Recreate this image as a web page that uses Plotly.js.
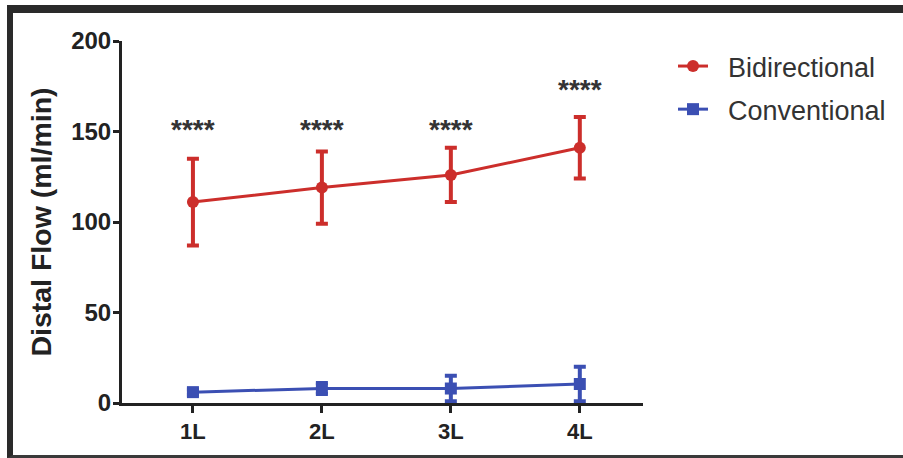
<!DOCTYPE html>
<html>
<head>
<meta charset="utf-8">
<script src="https://cdn.plot.ly/plotly-3.0.1.min.js"></script>
<style>
  html, body { margin: 0; padding: 0; background: #fff; overflow: hidden; }
  #wrap { position: relative; width: 903px; height: 458px; }
  #chart { width: 903px; height: 458px; }
  #frame {
    position: absolute; left: 7px; top: 5px; width: 896px; height: 453px;
    box-sizing: border-box; pointer-events: none;
    border-left: 6px solid #2a2a2a; border-top: 8px solid #2a2a2a; border-bottom: 3px solid #3a3a3a;
  }
</style>
</head>
<body>
<div id="wrap">
  <div id="chart"></div>
  <div id="frame"></div>
</div>
<script>
// ---- data ----
const categories = ['1L', '2L', '3L', '4L'];
const bidirectionalMean = [111, 119, 126, 141];
const bidirectionalErr = [24, 20, 15, 17];
const conventionalMean = [6, 8, 8, 10.5];
const conventionalErr = [1.5, 3, 7, 9.5];
const seriesNames = ['\u00a0\u00a0Bidirectional', '\u00a0\u00a0Conventional'];
const sigLabels = ['****', '****', '****', '****'];
const sigY = [153, 153, 153, 175];
const yTicks = [0, 50, 100, 150, 200];

const RED = '#cc2e2b';
const BLUE = '#3b4fb3';

// plot area in pixels: x 122..643, y 41..403
const L = 122, R = 643, T = 41, B = 403;
const px = v => (v - L) / (R - L);
const py = v => (B - v) / (B - T);

const traces = [
  {
    x: categories, y: bidirectionalMean, name: seriesNames[0],
    type: 'scatter', mode: 'lines+markers', legendgroup: 'a',
    line: { color: RED, width: 3 },
    marker: { color: RED, size: 12, symbol: 'circle' },
    error_y: { type: 'data', array: bidirectionalErr, visible: true, color: RED, thickness: 4, width: 6 }
  },
  {
    x: categories, y: conventionalMean, name: seriesNames[1],
    type: 'scatter', mode: 'lines+markers', legendgroup: 'b',
    line: { color: BLUE, width: 3 },
    marker: { color: BLUE, size: 12, symbol: 'square' },
    error_y: { type: 'data', array: conventionalErr, visible: true, color: BLUE, thickness: 4, width: 6 }
  }
];

const annotations = categories.map((c, i) => ({
  x: c, y: sigY[i], xref: 'x', yref: 'y', text: sigLabels[i], showarrow: false,
  font: { family: 'Liberation Sans, Arial, sans-serif', size: 28, color: '#333', weight: 'bold' },
  yanchor: 'middle', yshift: -3
}));

const layout = {
  width: 903, height: 458,
  margin: { l: L, r: 903 - R, t: T, b: 458 - B, pad: 0 },
  paper_bgcolor: '#fff', plot_bgcolor: '#fff',
  font: { family: 'Liberation Sans, Arial, sans-serif', color: '#222' },
  showlegend: true,
  legend: {
    x: px(673), y: py(42), xanchor: 'left', yanchor: 'top',
    font: { size: 27, color: '#333' }, tracegroupgap: 5,
    traceorder: 'grouped', bgcolor: 'rgba(0,0,0,0)'
  },
  xaxis: {
    type: 'category', range: [-0.55, 3.49],
    showline: true, linecolor: '#222', linewidth: 3,
    ticks: 'outside', ticklen: 7, tickwidth: 3, tickcolor: '#222',
    showgrid: false, zeroline: false,
    tickfont: { size: 22, color: '#222', weight: 'bold' }
  },
  yaxis: {
    range: [0, 200], tickvals: yTicks,
    showline: true, linecolor: '#222', linewidth: 3,
    ticks: 'outside', ticklen: 6, tickwidth: 3, tickcolor: '#222',
    ticklabelstandoff: -3,
    showgrid: false, zeroline: false,
    tickfont: { size: 24, color: '#222', weight: 'bold' },
    title: { text: 'Distal Flow (ml/min)', font: { size: 28.5, color: '#222', weight: 'bold' }, standoff: 12 }
  },
  annotations: annotations
};

Plotly.newPlot('chart', traces, layout, { displayModeBar: false, staticPlot: true });
</script>
</body>
</html>
